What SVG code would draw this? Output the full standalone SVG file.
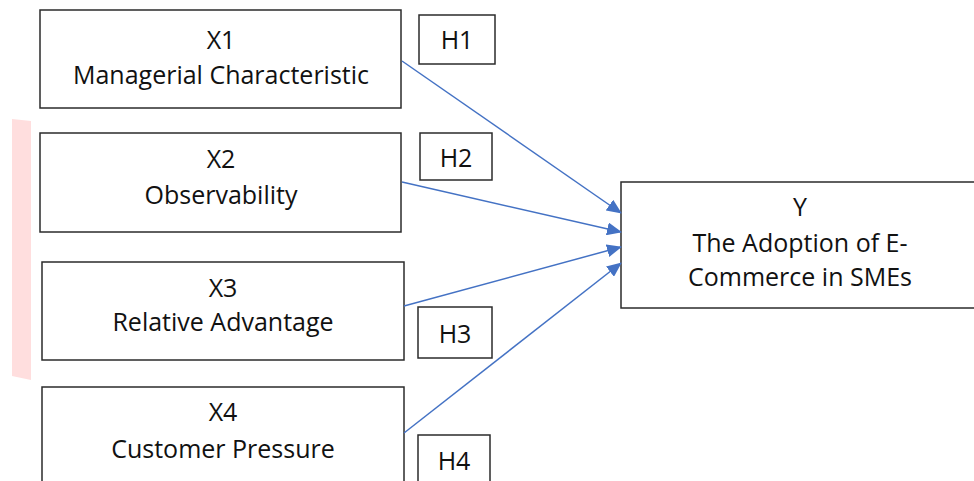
<svg xmlns="http://www.w3.org/2000/svg" width="974" height="481" viewBox="0 0 974 481">
<defs>
<style>
.box{fill:#fff;stroke:#2b2b2b;stroke-width:1.5}
.t{font-family:"Open Sans","Liberation Sans",Arial,sans-serif;font-size:25px;fill:#111;text-anchor:middle}
.c{stroke:#4472C4;stroke-width:1.5;fill:none;marker-end:url(#ah)}
</style>
<marker id="ah" markerWidth="15" markerHeight="13" refX="14" refY="6.5" orient="auto" markerUnits="userSpaceOnUse">
<path d="M0,0 L15,6.5 L0,13 Z" fill="#4472C4"/>
</marker>
</defs>
<rect width="974" height="481" fill="#fff"/>
<polygon points="12,119 31,121 31,380 12,376" fill="#ffdede"/>
<g id="x1"><rect class="box" x="40" y="10" width="361" height="98"/><text class="t" x="221" y="49">X1</text><text class="t" x="221" y="84">Managerial Characteristic</text></g>
<g id="x2"><rect class="box" x="40" y="133" width="361" height="99"/><text class="t" x="221" y="168">X2</text><text class="t" x="221" y="204">Observability</text></g>
<g id="x3"><rect class="box" x="42" y="262" width="362" height="98"/><text class="t" x="223" y="297">X3</text><text class="t" x="223" y="331">Relative Advantage</text></g>
<g id="x4"><rect class="box" x="42" y="387" width="362" height="110"/><text class="t" x="223" y="421">X4</text><text class="t" x="223" y="458">Customer Pressure</text></g>
<g id="y"><rect class="box" x="621" y="182" width="360" height="126"/><text class="t" x="800" y="216">Y</text><text class="t" x="800" y="252">The Adoption of E-</text><text class="t" x="800" y="286">Commerce in SMEs</text></g>
<g id="h1"><rect class="box" x="419" y="15" width="76" height="49"/><text class="t" x="457" y="49">H1</text></g>
<g id="h2"><rect class="box" x="420" y="133" width="72" height="47"/><text class="t" x="456" y="167">H2</text></g>
<g id="h3"><rect class="box" x="418" y="307" width="74" height="51"/><text class="t" x="455" y="343">H3</text></g>
<g id="h4"><rect class="box" x="418" y="435" width="72" height="60"/><text class="t" x="454" y="470">H4</text></g>
<g id="connectors">
<line class="c" x1="402" y1="61" x2="621" y2="213"/>
<line class="c" x1="402" y1="182" x2="621" y2="232"/>
<line class="c" x1="404" y1="306" x2="621" y2="247"/>
<line class="c" x1="404" y1="433" x2="621" y2="263"/>
</g>
</svg>
